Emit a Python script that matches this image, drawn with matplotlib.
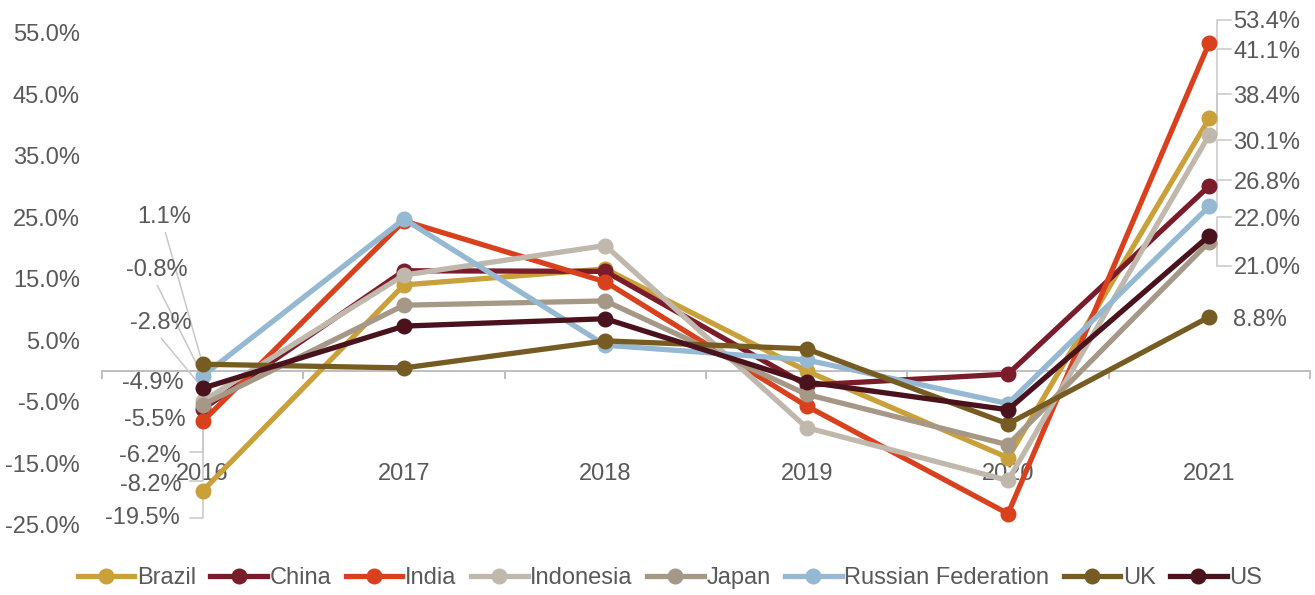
import matplotlib
matplotlib.use('Agg')
import matplotlib.pyplot as plt
import numpy as np

# Data (annual growth, %)
years = ['2016', '2017', '2018', '2019', '2020', '2021']
countries = ['Brazil', 'China', 'India', 'Indonesia', 'Japan',
             'Russian Federation', 'UK', 'US']

brazil = [-19.5, 14.0, 16.6, 0.0, -14.1, 41.1]
china = [-6.2, 16.3, 16.2, -2.3, -0.5, 30.1]
india = [-8.2, 24.4, 14.5, -5.7, -23.2, 53.4]
indonesia = [-4.9, 15.6, 20.4, -9.2, -17.8, 38.4]
japan = [-5.5, 10.7, 11.4, -3.8, -12.0, 21.0]
russia = [-0.8, 24.7, 4.2, 1.8, -5.3, 26.8]
uk = [1.1, 0.5, 4.9, 3.6, -8.6, 8.8]
us = [-2.8, 7.3, 8.5, -1.8, -6.3, 22.0]

series = [brazil, china, india, indonesia, japan, russia, uk, us]

colors = ['#C9A03A', '#7B1C2A', '#D9411E', '#C0B8AC', '#A69886',
          '#95B8D3', '#765C22', '#4A121C']

# label placement (data coords) for the first and last points
left_label_pos = {
    'UK': (-0.19, 25.0), 'Russian Federation': (-0.23, 16.4),
    'US': (-0.21, 7.8), 'Indonesia': (-0.25, -1.95),
    'Japan': (-0.24, -8.0), 'China': (-0.26, -13.8),
    'India': (-0.26, -18.5), 'Brazil': (-0.30, -23.9),
}
right_label_y = {
    'India': 56.7, 'Brazil': 51.9, 'Indonesia': 44.6, 'China': 37.1,
    'Russian Federation': 30.6, 'US': 24.6, 'Japan': 16.7, 'UK': 8.3,
}

TEXT = '#595959'
LEAD = '#C8C8C8'
FS = 17

plt.rcParams['font.family'] = ['Liberation Sans', 'DejaVu Sans']

fig = plt.figure(figsize=(13.15, 5.95), dpi=100)
ax = fig.add_axes([102 / 1315, 70.25 / 595, 1208 / 1315, 492 / 595])

x = np.arange(len(years))
for name, vals, col in zip(countries, series, colors):
    ax.plot(x, vals, color=col, lw=3.8, marker='o', ms=10.5,
            label=name, zorder=3, clip_on=False)

# left-side labels + leaders
for name, vals in zip(countries, series):
    lx, ly = left_label_pos[name]
    v = vals[0]
    ax.text(lx, ly, f'{v:.1f}%', ha='center', va='center',
            fontsize=FS, color=TEXT, zorder=4)
    if name in ('UK', 'Russian Federation', 'US'):
        ax.plot([lx + 0.005, x[0]], [ly - 2.5, v], color=LEAD, lw=1.1,
                zorder=2, clip_on=False)
    elif name in ('China', 'India', 'Brazil'):
        yb = ly + 0.6 if name != 'Brazil' else ly
        ax.plot([-0.065, x[0], x[0]], [yb, yb, v], color=LEAD, lw=1.1,
                zorder=2, clip_on=False)

# right-side labels + leaders
for name, vals in zip(countries, series):
    ly = right_label_y[name]
    v = vals[-1]
    ax.text(5.12, ly, f'{v:.1f}%', ha='left', va='center',
            fontsize=FS, color=TEXT, zorder=4, clip_on=False)
    if name != 'UK':
        yb = ly + 0.4
        ax.plot([5.11, 5.04, 5.04], [yb, yb, v], color=LEAD, lw=1.1,
                zorder=2, clip_on=False)

ax.set_xlim(-0.5, 5.5)
ax.set_ylim(-25, 55)

for s in ['top', 'right', 'left']:
    ax.spines[s].set_visible(False)
ax.spines['bottom'].set_position(('data', 0))
ax.spines['bottom'].set_color('#BFBFBF')
ax.spines['bottom'].set_linewidth(1.4)
ax.spines['bottom'].set_zorder(1)

ax.set_xticks(x)
ax.set_xticklabels(years)
ax.set_xticks(np.arange(-0.5, 6, 1), minor=True)
ax.tick_params(axis='x', which='major', length=0, pad=66,
               labelsize=FS, labelcolor=TEXT)
ax.tick_params(axis='x', which='minor', length=6, width=1.4,
               color='#BFBFBF', direction='out')

yt = np.arange(-25, 56, 10)
ax.set_yticks(yt)
ax.set_yticklabels([f'{t:.1f}%' for t in yt])
ax.tick_params(axis='y', length=0, pad=16, labelsize=FS, labelcolor=TEXT)

leg = fig.legend(*ax.get_legend_handles_labels(), loc='center',
                 bbox_to_anchor=(670 / 1315, 17 / 595), ncol=8,
                 frameon=False, fontsize=FS, handlelength=2.4,
                 handletextpad=0.12, columnspacing=0.6,
                 borderaxespad=0, borderpad=0)
for t in leg.get_texts():
    t.set_color(TEXT)

fig.savefig('out.png', dpi=100)
